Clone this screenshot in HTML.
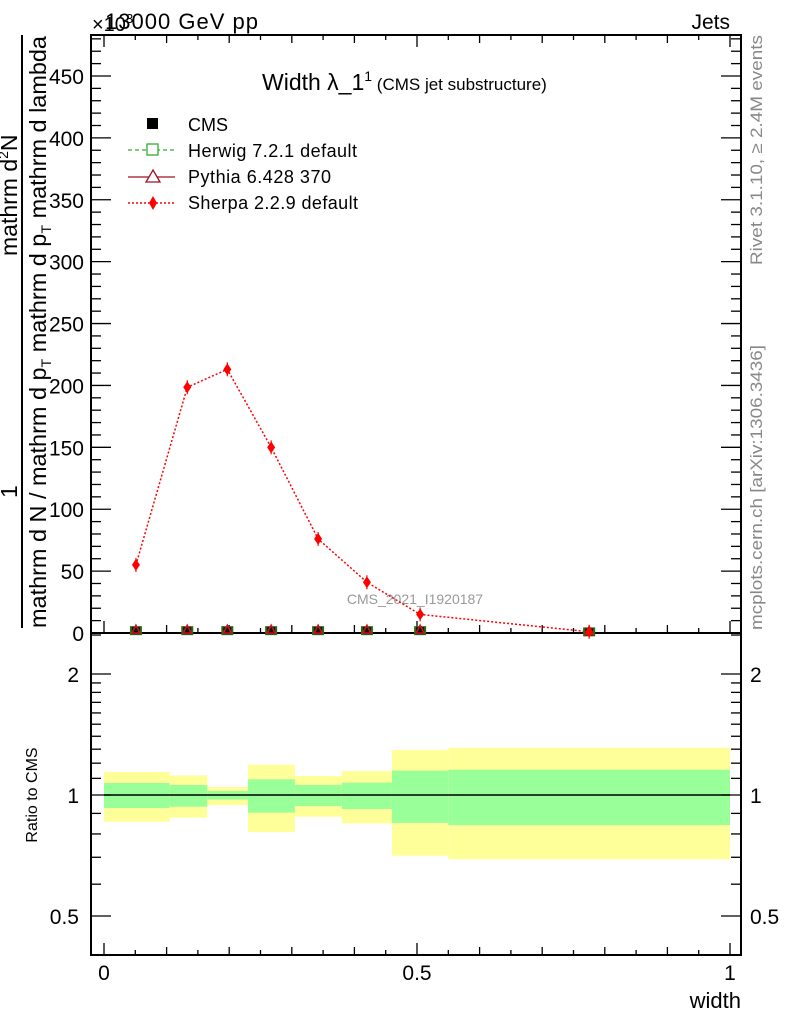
<!DOCTYPE html>
<html><head><meta charset="utf-8"><style>
html,body{margin:0;padding:0;background:#fff}
svg{display:block;font-family:"Liberation Sans",sans-serif}
</style></head><body>
<svg id="chart" width="786" height="1024" viewBox="0 0 786 1024" xmlns="http://www.w3.org/2000/svg">
<g id="static">
<text x="105" y="29" font-size="22" textLength="153">13000 GeV pp</text>
<text x="92" y="31" font-size="20">×10<tspan font-size="13" dy="-8">3</tspan></text>
<text x="730" y="29" font-size="21" text-anchor="end">Jets</text>
<text x="262" y="90" font-size="23">Width λ_1<tspan font-size="14" dy="-9">1</tspan><tspan font-size="17" dy="9"> (CMS jet substructure)</tspan></text>
<text x="415" y="604" font-size="14" fill="#999" text-anchor="middle">CMS_2021_I1920187</text>
<text transform="translate(762,265) rotate(-90)" font-size="17" fill="#888" textLength="230" lengthAdjust="spacingAndGlyphs">Rivet 3.1.10, ≥ 2.4M events</text>
<text transform="translate(762,630) rotate(-90)" font-size="17" fill="#888" textLength="285" lengthAdjust="spacingAndGlyphs">mcplots.cern.ch [arXiv:1306.3436]</text>
<g>
<line x1="22" y1="35" x2="22" y2="628" stroke="#000" stroke-width="2"/>
<text transform="translate(17,256) rotate(-90)" font-size="23">mathrm d<tspan font-size="14" dy="-9">2</tspan><tspan dy="9">N</tspan></text>
<text transform="translate(17,498) rotate(-90)" font-size="23">1</text>
<text transform="translate(46,628) rotate(-90)" font-size="23" textLength="592" lengthAdjust="spacingAndGlyphs">mathrm d N / mathrm d p<tspan font-size="14" dy="5">T</tspan><tspan dy="-5"> mathrm d p</tspan><tspan font-size="14" dy="5">T</tspan><tspan dy="-5"> mathrm d lambda</tspan></text>
</g>
<text transform="translate(37,795) rotate(-90)" font-size="16" text-anchor="middle">Ratio to CMS</text>
<text x="741" y="1008" font-size="22" text-anchor="end">width</text>
<g>
<rect x="147" y="118" width="11" height="11" fill="#000"/>
<text x="188" y="131" font-size="18">CMS</text>
<line x1="128" y1="150" x2="175" y2="150" stroke="#3a3" stroke-width="1.3" stroke-dasharray="4,3"/>
<rect x="147" y="144" width="11" height="11" fill="#fff" stroke="#3a3" stroke-width="1.3"/>
<text x="188" y="157" font-size="18" textLength="169">Herwig 7.2.1 default</text>
<line x1="128" y1="177" x2="175" y2="177" stroke="#a01020" stroke-width="1.3"/>
<polygon points="153,170 160,182 146,182" fill="#fff" stroke="#a01020" stroke-width="1.3"/>
<text x="188" y="183" font-size="18" textLength="143">Pythia 6.428 370</text>
<line x1="128" y1="203" x2="175" y2="203" stroke="#f00" stroke-width="1.5" stroke-dasharray="2,2"/>
<polygon points="153,196 157,203 153,210 149,203" fill="#f00"/>
<text x="188" y="209" font-size="18" textLength="170">Sherpa 2.2.9 default</text>
</g>
</g>
<g id="dyn"></g>
</svg>
<script>
const binEdges=[0,0.105,0.165,0.23,0.305,0.38,0.46,0.55,1.0];
const binCenters=[0.051,0.133,0.197,0.267,0.342,0.42,0.505,0.775];
const sherpaVals=[55,198.5,213,150,76,41,15,1];
const cmsVals=[1.5,1.5,1.5,1.5,1.5,1.5,1.5,0.5];
const herwigVals=[1.5,1.5,1.5,1.5,1.5,1.5,1.5,0.5];
const pythiaVals=[1.5,1.5,1.5,1.5,1.5,1.5,1.5,0.5];
const bandYellowUp=[1.141,1.119,1.047,1.190,1.115,1.147,1.294,1.311];
const bandYellowLo=[0.858,0.878,0.944,0.809,0.883,0.850,0.706,0.692];
const bandGreenUp=[1.071,1.059,1.023,1.094,1.059,1.073,1.150,1.156];
const bandGreenLo=[0.928,0.935,0.974,0.904,0.939,0.923,0.852,0.842];
const mainTicks=[0,50,100,150,200,250,300,350,400,450];
const ratioTicks=[0.5,1,2];
const xTicks=[0,0.5,1];

const NS="http://www.w3.org/2000/svg";
const dyn=document.getElementById('dyn');
const L=91,R=741,T=35,MB=633,RB=955;
const X=v=>104+v*626;
const Y=v=>633-v*1.2378;
const YR=v=>795-Math.log10(v)*402;
function mk(tag,attrs,parent){const e=document.createElementNS(NS,tag);for(const k in attrs)e.setAttribute(k,attrs[k]);(parent||dyn).appendChild(e);return e;}

for(let i=0;i<binCenters.length;i++){
  const x0=X(binEdges[i]),x1=X(binEdges[i+1]);
  const y=mk('rect',{x:x0,y:YR(bandYellowUp[i]),width:x1-x0,height:YR(bandYellowLo[i])-YR(bandYellowUp[i]),fill:'#ffff99'});
  
  
  const g=mk('rect',{x:x0,y:YR(bandGreenUp[i]),width:x1-x0,height:YR(bandGreenLo[i])-YR(bandGreenUp[i]),fill:'#99ff99'});
  
  
}
const one=mk('line',{x1:X(binEdges[0]),x2:X(binEdges[binEdges.length-1]),y1:YR(1),y2:YR(1),stroke:'#000','stroke-width':1.5});



const f1=mk('rect',{x:L,y:T,width:R-L,height:MB-T,fill:'none',stroke:'#000','stroke-width':2});


const f2=mk('rect',{x:L,y:MB,width:R-L,height:RB-MB,fill:'none',stroke:'#000','stroke-width':2});



for(let v=0;v<=480;v+=10){
  const big=v%50===0,len=big?20:10,y=Y(v);
  mk('line',{x1:L,x2:L+len,y1:y,y2:y,stroke:'#000','stroke-width':1.3});
  mk('line',{x1:R,x2:R-len,y1:y,y2:y,stroke:'#000','stroke-width':1.3});
}
mainTicks.forEach(v=>{
  const t=mk('text',{x:84,y:Y(v)+8,'font-size':21,'text-anchor':'end'});
  t.textContent=v;
  
  
});
const minorR=[0.4,0.5,0.6,0.7,0.8,0.9,1,1.1,1.2,1.3,1.4,1.5,1.6,1.7,1.8,1.9,2,2.5];
minorR.forEach(v=>{
  const big=ratioTicks.includes(v),len=big?20:10,y=YR(v);
  if(y<MB||y>RB)return;
  mk('line',{x1:L,x2:L+len,y1:y,y2:y,stroke:'#000','stroke-width':1.3});
  mk('line',{x1:R,x2:R-len,y1:y,y2:y,stroke:'#000','stroke-width':1.3});
});
ratioTicks.forEach(v=>{
  const t=mk('text',{x:79,y:YR(v)+8,'font-size':21,'text-anchor':'end'});
  t.textContent=v;
  
  
  const t2=mk('text',{x:750,y:YR(v)+8,'font-size':21});
  t2.textContent=v;
  
  
});
for(let k=0;k<=20;k++){
  const v=k*0.05,x=X(v),len=(k%10===0)?12:(k%2===0?8:5);
  [MB,RB].forEach(b=>{
    mk('line',{x1:x,x2:x,y1:b,y2:b-len,stroke:'#000','stroke-width':1.3});
  });
  mk('line',{x1:x,x2:x,y1:T,y2:T+len,stroke:'#000','stroke-width':1.3});
}
xTicks.forEach(v=>{
  const t=mk('text',{x:X(v),y:980,'font-size':21,'text-anchor':'middle'});
  t.textContent=v;
  
  
});

const pts=binCenters.map((c,i)=>X(c)+','+Y(sherpaVals[i])).join(' ');
const sl=mk('polyline',{points:pts,fill:'none',stroke:'#f00','stroke-width':1.5,'stroke-dasharray':'2,2'});


binCenters.forEach((c,i)=>{
  const x=X(c);
  const cm=mk('rect',{x:x-6,y:Y(herwigVals[i])-5,width:12,height:9,fill:'#2a6a10'});
  
  
  const c2=mk('rect',{x:x-4,y:Y(cmsVals[i])-4,width:8,height:7,fill:'#111'});
  
  
  const py=Y(pythiaVals[i]);
  const pt=mk('polygon',{points:`${x},${py-6} ${x+4},${py+2} ${x-4},${py+2}`,fill:'none',stroke:'#d01020','stroke-width':1.5});
  
  
  const y=Y(sherpaVals[i]);
  mk('line',{x1:x,x2:x,y1:y-7,y2:y+7,stroke:'#f00','stroke-width':1.2});
  const d=mk('polygon',{points:`${x},${y-6} ${x+4},${y} ${x},${y+6} ${x-4},${y}`,fill:'#f00'});
  
  
});
</script>
</body></html>
